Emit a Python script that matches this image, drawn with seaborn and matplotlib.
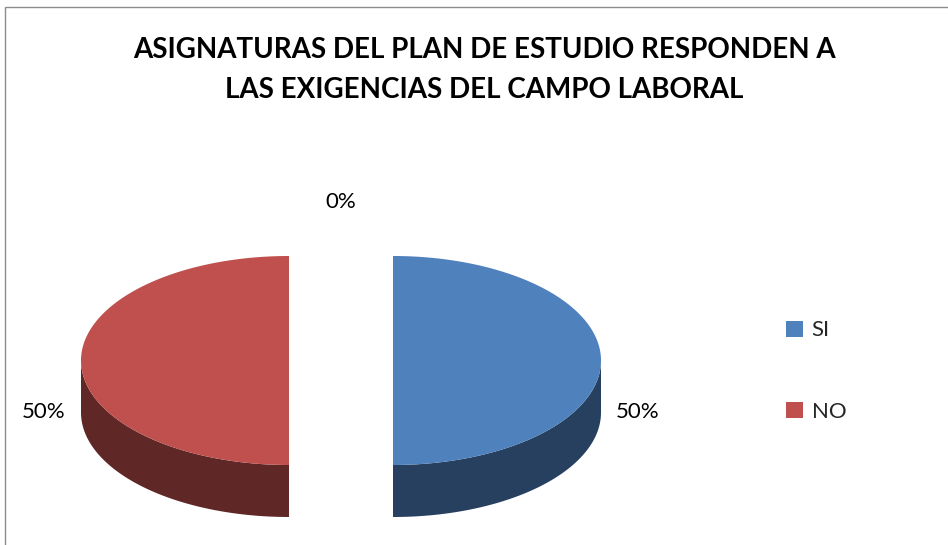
import numpy as np
import seaborn as sns
import matplotlib.pyplot as plt
from matplotlib.patches import Polygon, Rectangle, Patch

# data
categories = ["SI", "NO", ""]
values = [50, 50, 0]
pct_labels = ["50%", "50%", "0%"]
title_lines = ["ASIGNATURAS DEL PLAN DE ESTUDIO RESPONDEN A",
               "LAS EXIGENCIAS DEL CAMPO LABORAL"]

top_colors = ["#4F81BD", "#C0504D", "#9BBB59"]
side_colors = ["#284060", "#602727", "#4D5D2C"]

sns.set_theme(style="white")
plt.rcParams['font.family'] = ['Lato', 'DejaVu Sans']

fig = plt.figure(figsize=(9.48, 5.45), dpi=100)
ax = fig.add_axes([0, 0, 1, 1])
ax.set_xlim(0, 948)
ax.set_ylim(545, 0)
ax.axis('off')

# pie geometry (pixels)
cx, cy = 341, 360.5
a, b = 208, 104.5
depth = 52
explode = 52

total = sum(values)
cum = np.concatenate([[0], np.cumsum(values)])
slices = []
for i, v in enumerate(values):
    t1 = 90 - 360 * cum[i] / total
    t2 = 90 - 360 * cum[i + 1] / total
    mid = np.radians((t1 + t2) / 2)
    ox = explode * np.cos(mid)
    oy = -explode * np.sin(mid) * b / a
    slices.append((t1, t2, mid, ox, oy))

# side walls first
for i, (t1, t2, mid, ox, oy) in enumerate(slices):
    if values[i] == 0:
        continue
    t = np.linspace(t2, t1, 400)
    vis = t[np.sin(np.radians(t)) <= 1e-9]
    if len(vis) == 0:
        continue
    tr = np.radians(vis)
    xs = cx + ox + a * np.cos(tr)
    ys = cy + oy - b * np.sin(tr)
    pts = np.vstack([np.column_stack([xs, ys]),
                     np.column_stack([xs[::-1], ys[::-1] + depth])])
    ax.add_patch(Polygon(pts, closed=True, facecolor=side_colors[i],
                         edgecolor='none', zorder=2))

# top faces
for i, (t1, t2, mid, ox, oy) in enumerate(slices):
    if values[i] == 0:
        continue
    tr = np.radians(np.linspace(t1, t2, 400))
    xs = cx + ox + a * np.cos(tr)
    ys = cy + oy - b * np.sin(tr)
    pts = np.vstack([[cx + ox, cy + oy], np.column_stack([xs, ys])])
    ax.add_patch(Polygon(pts, closed=True, facecolor=top_colors[i],
                         edgecolor='none', zorder=3))

# percentage labels
for i, (t1, t2, mid, ox, oy) in enumerate(slices):
    lx = cx + (a + explode + 37) * np.cos(mid)
    ly = cy + depth - 210 * np.sin(mid)
    ax.text(lx, ly, pct_labels[i], ha='center', va='center',
            fontsize=16, color='black')

# title
ax.text(484, 50, title_lines[0], ha='center', va='center',
        fontsize=20, fontweight='bold', color='black')
ax.text(484, 90, title_lines[1], ha='center', va='center',
        fontsize=20, fontweight='bold', color='black')

# legend
handles = [Patch(facecolor=top_colors[i], edgecolor='none')
           for i in range(len(categories)) if categories[i]]
labels = [c for c in categories if c]
ax.legend(handles, labels, loc='center left',
          bbox_to_anchor=(786 / 948, 1 - 371 / 545), frameon=False,
          fontsize=16, handlelength=0.75, handleheight=0.75,
          labelspacing=2.75, handletextpad=0.4, borderpad=0, borderaxespad=0)

# chart area border
ax.add_patch(Rectangle((5, 7), 1000, 600, fill=False, edgecolor='#8c8c8c',
                       linewidth=1, zorder=1))

fig.savefig('out.png', dpi=100)
